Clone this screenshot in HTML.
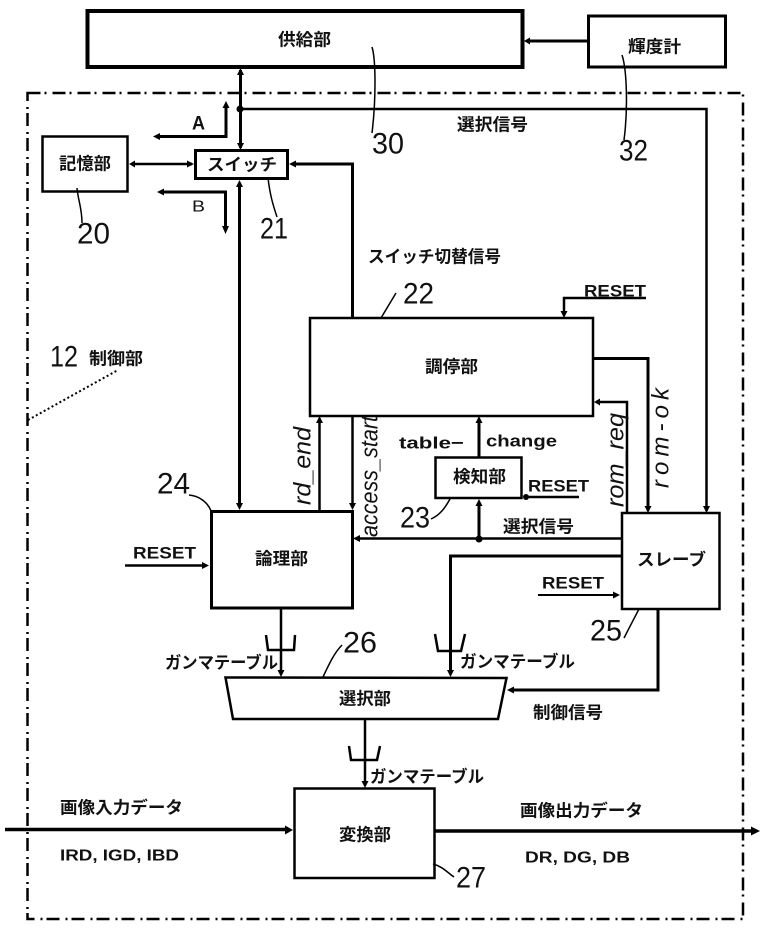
<!DOCTYPE html>
<html><head><meta charset="utf-8"><style>
html,body{margin:0;padding:0;background:#fff}
svg{display:block}
.j{font-family:"Liberation Sans","Noto Sans CJK JP",sans-serif;font-weight:700;font-size:17px;fill:#111;dominant-baseline:central}
.l{font-family:"Liberation Sans",sans-serif;font-weight:700;font-size:17px;fill:#111;dominant-baseline:central}
.m{font-family:"Liberation Sans",sans-serif;font-size:16px;fill:#111;font-weight:700;dominant-baseline:central}
.n{font-family:"Liberation Sans",sans-serif;font-size:30px;fill:#111;dominant-baseline:central}
.h{font-family:"Liberation Sans",sans-serif;font-style:italic;font-size:24px;fill:#111;dominant-baseline:central}
</style></head><body>
<svg width="762" height="935" viewBox="0 0 762 935" xmlns="http://www.w3.org/2000/svg">
<rect width="762" height="935" fill="#fff"/>
<rect x="27.5" y="93" width="715.5" height="826" fill="none" stroke="#000" stroke-width="2.5" stroke-dasharray="13 4 2 6"/>
<g fill="none" stroke="#000">
<rect x="87.5" y="11" width="435" height="56" stroke-width="4"/>
<rect x="588.5" y="16" width="137" height="51" stroke-width="3"/>
<rect x="42.5" y="136.5" width="85" height="55" stroke-width="2.5"/>
<rect x="195.5" y="150.5" width="92" height="28" stroke-width="3"/>
<rect x="310" y="318" width="283" height="98" stroke-width="2.5"/>
<rect x="211.5" y="511.5" width="141" height="96.5" stroke-width="3"/>
<rect x="435.5" y="457.5" width="86" height="40.5" stroke-width="2.5"/>
<rect x="622" y="513" width="97.5" height="96" stroke-width="2.5"/>
<rect x="294.5" y="788.5" width="140" height="89.5" stroke-width="2.5"/>
<polygon points="225.5,677.5 506.5,678 498,719 233,719" stroke-width="2.5"/>
</g>
<g fill="none" stroke="#000" stroke-width="2.5">
<path d="M588 41H527" stroke-width="3"/>
<path d="M240.500 70V148" stroke-width="3"/>
<path d="M240 109H706.500V511"/>
<path d="M160 136.500H226V106" stroke-width="3"/>
<path d="M132 164H192"/>
<path d="M162 192H225.500V230" stroke-width="3"/>
<path d="M239.500 184V507" stroke-width="3"/>
<path d="M292 164H352.500V318" stroke-width="3"/>
<path d="M319.500 420V511"/>
<path d="M352.500 416V507"/>
<path d="M125 565.500H206" stroke-width="2.500"/>
<path d="M357 538.500H622"/>
<path d="M479 538V502" stroke-width="3"/>
<path d="M479 457V420" stroke-width="3"/>
<path d="M526 497H579"/>
<path d="M594 358.500H648V509" stroke-width="3"/>
<path d="M627 513V402H598"/>
<path d="M622 556H450.500V673" stroke-width="3"/>
<path d="M538 595H616" stroke-width="2"/>
<path d="M658 609V690H511" stroke-width="3"/>
<path d="M281 608V673"/>
<path d="M365 720V784"/>
<path d="M5 829.500H288" stroke-width="3.500"/>
<path d="M435 831H752" stroke-width="3.500"/>
<path d="M646 298H564V314"/>
<path d="M266 635L268 650H294L295 635"/>
<path d="M435 634L438 651H461L465 634"/>
<path d="M349 746L351 760H377L380 746"/>
</g>
<g fill="none" stroke="#000" stroke-width="1.500">
<path d="M372 47C376 60 376 100 372 133"/>
<path d="M622 55C627 70 628 110 624 140"/>
<path d="M77 188C78 200 82 208 82 223"/>
<path d="M268 178C270 195 273 205 277 217"/>
<path d="M381 318L396 293"/>
<path d="M189 495C200 496 208 503 211 511"/>
<path d="M431 519C440 515 445 508 450 499"/>
<path d="M624 638L639 609"/>
<path d="M323 677C330 662 335 652 342 645"/>
<path d="M433 864C442 866 448 873 454 877"/>
<path d="M28 420L118 370" stroke-width="2" stroke-dasharray="2 2.500"/>
</g>
<g fill="#000">
<polygon points="524,41 530,37.500 530,44.500"/>
<polygon points="240.500,68 237,75 244,75"/>
<polygon points="240.500,150 237,143 244,143"/>
<circle cx="240" cy="109" r="3.500"/>
<polygon points="226,101 222.500,108 229.500,108"/>
<polygon points="153,136.500 160,133 160,140"/>
<polygon points="129,164 135,160.500 135,167.500"/>
<polygon points="194,164 187,160.500 187,167.500"/>
<polygon points="157,192 164,188.500 164,195.500"/>
<polygon points="225.500,234 222,226 229,226"/>
<polygon points="239.500,180 236,187 243,187"/>
<polygon points="239.500,510 236,503 243,503"/>
<polygon points="289,164 296,160.500 296,167.500"/>
<polygon points="319.500,416 316,423 323,423"/>
<polygon points="352.500,510 349,503 356,503"/>
<polygon points="209,565.500 202,562 202,569"/>
<polygon points="353,538.500 360,535 360,542"/>
<circle cx="479" cy="539" r="3.500"/>
<polygon points="479,499 475.500,506 482.500,506"/>
<polygon points="479,416 475.500,423 482.500,423"/>
<circle cx="526" cy="497" r="3"/>
<polygon points="648,513 644.500,506 651.500,506"/>
<polygon points="594,402 600,398.500 600,405.500"/>
<polygon points="706.500,513 703,506 710,506"/>
<polygon points="620,595 613,591.500 613,598.500"/>
<polygon points="450.500,677 447,670 454,670"/>
<polygon points="507,690 514,686.500 514,693.500"/>
<polygon points="281,677 277.500,670 284.500,670"/>
<polygon points="365,788 361.500,781 368.500,781"/>
<polygon points="293,830 285,825.500 285,834.500"/>
<polygon points="760,831 751,826.500 751,835.500"/>
<polygon points="564,318 560.500,311 567.500,311"/>
</g>
<g>
<text class="j" x="278" y="40" textLength="53" lengthAdjust="spacingAndGlyphs">供給部</text>
<text class="j" x="628" y="47" textLength="53" lengthAdjust="spacingAndGlyphs">輝度計</text>
<text class="j" x="457" y="125" textLength="71" lengthAdjust="spacingAndGlyphs">選択信号</text>
<text class="j" x="368" y="257" textLength="133" lengthAdjust="spacingAndGlyphs">スイッチ切替信号</text>
<text class="j" x="59" y="164" textLength="52" lengthAdjust="spacingAndGlyphs">記憶部</text>
<text class="j" x="207" y="165" textLength="70" lengthAdjust="spacingAndGlyphs">スイッチ</text>
<text class="j" x="425" y="367" textLength="53" lengthAdjust="spacingAndGlyphs">調停部</text>
<text class="j" x="89" y="359" textLength="54" lengthAdjust="spacingAndGlyphs">制御部</text>
<text class="j" x="453" y="477" textLength="53" lengthAdjust="spacingAndGlyphs">検知部</text>
<text class="j" x="503" y="527" textLength="71" lengthAdjust="spacingAndGlyphs">選択信号</text>
<text class="j" x="637" y="560" textLength="69" lengthAdjust="spacingAndGlyphs">スレーブ</text>
<text class="j" x="255" y="559" textLength="53" lengthAdjust="spacingAndGlyphs">論理部</text>
<text class="j" x="165" y="663" textLength="113" lengthAdjust="spacingAndGlyphs">ガンマテーブル</text>
<text class="j" x="460" y="662" textLength="115" lengthAdjust="spacingAndGlyphs">ガンマテーブル</text>
<text class="j" x="339" y="699" textLength="52" lengthAdjust="spacingAndGlyphs">選択部</text>
<text class="j" x="533" y="713" textLength="70" lengthAdjust="spacingAndGlyphs">制御信号</text>
<text class="j" x="370" y="777" textLength="114" lengthAdjust="spacingAndGlyphs">ガンマテーブル</text>
<text class="j" x="60" y="808" textLength="123" lengthAdjust="spacingAndGlyphs">画像入力データ</text>
<text class="j" x="339" y="835" textLength="52" lengthAdjust="spacingAndGlyphs">変換部</text>
<text class="j" x="520" y="811" textLength="123" lengthAdjust="spacingAndGlyphs">画像出力データ</text>
<text class="l" x="584" y="291" textLength="62" lengthAdjust="spacingAndGlyphs">RESET</text>
<text class="l" x="528" y="486" textLength="61" lengthAdjust="spacingAndGlyphs">RESET</text>
<text class="l" x="542" y="583" textLength="62" lengthAdjust="spacingAndGlyphs">RESET</text>
<text class="l" x="133" y="553" textLength="63" lengthAdjust="spacingAndGlyphs">RESET</text>
<text class="l" x="399" y="443" textLength="65" lengthAdjust="spacingAndGlyphs">table−</text>
<text class="l" x="486" y="441" textLength="71" lengthAdjust="spacingAndGlyphs">change</text>
<text class="l" style="font-size:19px" x="192" y="124" textLength="13" lengthAdjust="spacingAndGlyphs">A</text>
<text class="l" style="font-size:16px;font-weight:400" x="192" y="207" textLength="13" lengthAdjust="spacingAndGlyphs">B</text>
<text class="m" x="60" y="856" textLength="119" lengthAdjust="spacingAndGlyphs">IRD, IGD, IBD</text>
<text class="m" x="525" y="858" textLength="105" lengthAdjust="spacingAndGlyphs">DR, DG, DB</text>
<text class="n" x="372" y="144" textLength="32" lengthAdjust="spacingAndGlyphs">30</text>
<text class="n" x="619" y="151" textLength="29" lengthAdjust="spacingAndGlyphs">32</text>
<text class="n" x="77" y="234" textLength="33" lengthAdjust="spacingAndGlyphs">20</text>
<text class="n" x="260" y="229" textLength="28" lengthAdjust="spacingAndGlyphs">21</text>
<text class="n" x="403" y="294" textLength="31" lengthAdjust="spacingAndGlyphs">22</text>
<text class="n" x="50" y="357" textLength="28" lengthAdjust="spacingAndGlyphs">12</text>
<text class="n" x="157" y="484" textLength="33" lengthAdjust="spacingAndGlyphs">24</text>
<text class="n" x="400" y="518" textLength="30" lengthAdjust="spacingAndGlyphs">23</text>
<text class="n" x="590" y="631" textLength="32" lengthAdjust="spacingAndGlyphs">25</text>
<text class="n" x="343" y="643" textLength="34" lengthAdjust="spacingAndGlyphs">26</text>
<text class="n" x="456" y="878" textLength="30" lengthAdjust="spacingAndGlyphs">27</text>
<text class="h" transform="translate(303 505) rotate(-90)" textLength="78" lengthAdjust="spacingAndGlyphs">rd_end</text>
<text class="h" transform="translate(370 537) rotate(-90)" textLength="121" lengthAdjust="spacingAndGlyphs">access_start</text>
<text class="h" transform="translate(616 507) rotate(-90)" textLength="94" lengthAdjust="spacingAndGlyphs">rom_req</text>
<text class="h" transform="translate(661 488) rotate(-90)" textLength="100" lengthAdjust="spacing">rom-ok</text>
</g>
</svg>
</body></html>
